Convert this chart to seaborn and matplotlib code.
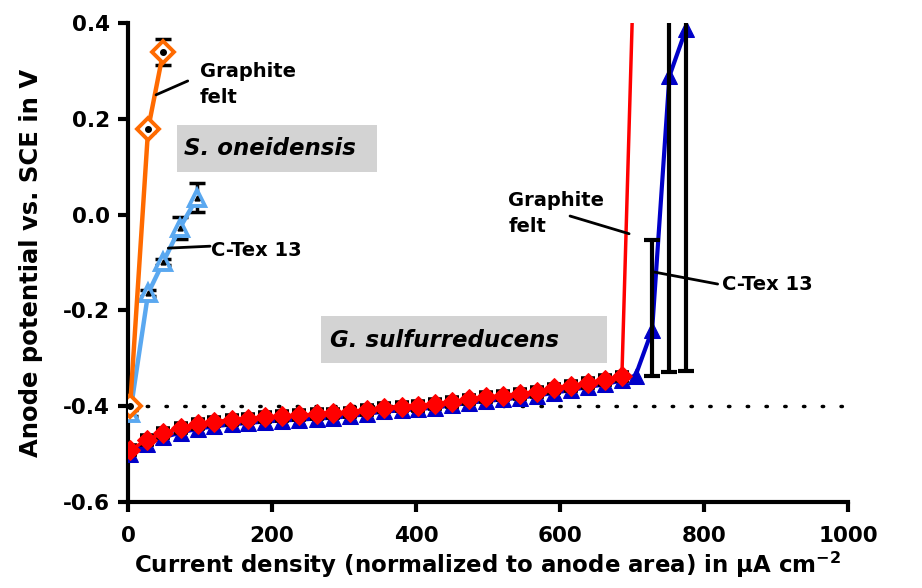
import matplotlib
matplotlib.use('Agg')
import matplotlib.pyplot as plt
from matplotlib.patches import Rectangle
from matplotlib.ticker import FormatStrFormatter
import seaborn as sns

# S. oneidensis (current density in uA cm-2, potential in V vs SCE)
so_felt_x = [3, 28, 49]
so_felt_y = [-0.400, 0.179, 0.340]
so_felt_err = [0.006, 0.006, 0.027]
so_ctex_x = [3, 28, 49, 72, 96]
so_ctex_y = [-0.415, -0.164, -0.099, -0.028, 0.035]
so_ctex_err = [0.006, 0.006, 0.006, 0.023, 0.030]

# G. sulfurreducens
gs_felt_x = [3, 26, 49, 73, 97, 120, 144, 167, 190, 214, 238, 262, 285, 309, 332,
             356, 380, 403, 427, 450, 474, 497, 521, 545, 568, 592, 616, 639, 663, 686, 706]
gs_felt_y = [-0.492, -0.470, -0.456, -0.446, -0.437, -0.432, -0.429, -0.426, -0.423, -0.421,
             -0.419, -0.417, -0.415, -0.413, -0.408, -0.403, -0.401, -0.399, -0.396, -0.391,
             -0.386, -0.381, -0.378, -0.375, -0.370, -0.363, -0.358, -0.351, -0.345, -0.338, 0.700]
gs_ctex_x = [3, 26, 49, 73, 97, 120, 144, 167, 190, 214, 238, 262, 285, 309, 332,
             356, 380, 403, 427, 450, 474, 497, 521, 545, 568, 592, 616, 639, 663, 686,
             705, 728, 752, 775]
gs_ctex_y = [-0.500, -0.478, -0.465, -0.455, -0.447, -0.442, -0.438, -0.435, -0.432, -0.430,
             -0.428, -0.426, -0.424, -0.421, -0.416, -0.411, -0.409, -0.406, -0.403, -0.398,
             -0.393, -0.389, -0.386, -0.382, -0.378, -0.372, -0.366, -0.360, -0.354, -0.346,
             -0.336, -0.241, 0.289, 0.387]
gs_bar_x = [728, 752, 775]
gs_bar_y = [-0.241, 0.289, 0.387]
gs_bar_lo = [0.096, 0.618, 0.713]
gs_bar_hi = [0.187, 0.618, 0.713]

sns.set_style('ticks')
plt.rcParams['font.family'] = ['DejaVu Sans']
plt.rcParams['axes.unicode_minus'] = False
for k in ['text.color', 'axes.labelcolor', 'xtick.color', 'ytick.color', 'axes.edgecolor']:
    plt.rcParams[k] = 'black'

fig = plt.figure(figsize=(9.22, 5.88), dpi=100)
ax = fig.add_axes([0.1388, 0.1463, 0.7809, 0.8146])

ORANGE = '#FF6A00'
LBLUE = '#5AA8F0'
RED = '#FF0000'
DBLUE = '#0000C8'

# reference line at -0.4 V
ax.axhline(-0.4, color='black', lw=2.5, ls=(0, (0.4, 5.0)), dash_capstyle='round', zorder=1)

# G. sulfurreducens
sns.lineplot(x=gs_ctex_x, y=gs_ctex_y, ax=ax, color=DBLUE, lw=3, marker='^', markersize=11,
             markeredgecolor=DBLUE, sort=False, zorder=3)
ax.errorbar(gs_bar_x, gs_bar_y, yerr=[gs_bar_lo, gs_bar_hi], fmt='none', ecolor='black',
            elinewidth=3, capsize=6, capthick=3, zorder=4)
ax.errorbar(gs_felt_x[:-1], gs_felt_y[:-1], yerr=0.008, fmt='none', ecolor='black',
            elinewidth=4, capsize=5, capthick=4, zorder=4)
sns.lineplot(x=gs_felt_x, y=gs_felt_y, ax=ax, color=RED, lw=2.5, marker='D', markersize=10,
             markeredgecolor=RED, sort=False, zorder=5)

# S. oneidensis
ax.errorbar(so_ctex_x, so_ctex_y, yerr=so_ctex_err, fmt='none', ecolor='black',
            elinewidth=2.5, capsize=6, capthick=2.5, zorder=5.5)
sns.lineplot(x=so_ctex_x, y=so_ctex_y, ax=ax, color=LBLUE, lw=3.2, marker='^', markersize=12,
             markerfacecolor='white', markeredgecolor=LBLUE, markeredgewidth=2.8, sort=False, zorder=6)
ax.errorbar(so_felt_x, so_felt_y, yerr=so_felt_err, fmt='none', ecolor='black',
            elinewidth=2.5, capsize=6, capthick=2.5, zorder=7)
sns.lineplot(x=so_felt_x, y=so_felt_y, ax=ax, color=ORANGE, lw=3.2, marker='D', markersize=11,
             markerfacecolor='white', markeredgecolor=ORANGE, markeredgewidth=2.8, sort=False, zorder=8)
ax.plot(so_ctex_x, so_ctex_y, ls='none', marker='^', ms=3.5, color='black', zorder=6.5)
ax.plot(so_felt_x, so_felt_y, ls='none', marker='o', ms=4, color='black', zorder=8.5)

# organism boxes
ax.add_patch(Rectangle((68, 0.089), 278, 0.098, facecolor='#D3D3D3', edgecolor='none', zorder=2))
ax.text(78, 0.137, 'S. oneidensis', fontsize=16.5, fontweight='bold', fontstyle='italic',
        va='center', ha='left', zorder=3)
ax.add_patch(Rectangle((268, -0.310), 397, 0.098, facecolor='#D3D3D3', edgecolor='none', zorder=2))
ax.text(280, -0.262, 'G. sulfurreducens', fontsize=16.5, fontweight='bold', fontstyle='italic',
        va='center', ha='left', zorder=3)

# series labels with leader lines
lab = dict(fontsize=14, fontweight='bold', va='center', ha='left', linespacing=1.45)
ax.text(100, 0.272, 'Graphite\nfelt', **lab)
ax.plot([39, 83], [0.250, 0.279], color='black', lw=2, zorder=10)
ax.text(115, -0.074, 'C-Tex 13', **lab)
ax.plot([56, 114], [-0.070, -0.066], color='black', lw=2, zorder=10)
ax.text(528, 0.003, 'Graphite\nfelt', **lab)
ax.plot([614, 696], [-0.003, -0.040], color='black', lw=2, zorder=10)
ax.text(825, -0.147, 'C-Tex 13', **lab)
ax.plot([731, 819], [-0.120, -0.145], color='black', lw=2, zorder=10)

ax.set_xlim(0, 1000)
ax.set_ylim(-0.6, 0.4)
ax.set_xticks([0, 200, 400, 600, 800, 1000])
ax.set_yticks([-0.6, -0.4, -0.2, 0.0, 0.2, 0.4])
ax.yaxis.set_major_formatter(FormatStrFormatter('%.1f'))
sns.despine(ax=ax)
for s in ['left', 'bottom']:
    ax.spines[s].set_linewidth(3)
ax.tick_params(width=3, length=7, labelsize=15.5)
ax.tick_params(axis='x', pad=10)
ax.tick_params(axis='y', pad=6)
for t in ax.get_xticklabels() + ax.get_yticklabels():
    t.set_fontweight('bold')
ax.set_xlabel(r'Current density (normalized to anode area) in μA cm$^{\mathbf{-2}}$',
              fontsize=16.5, fontweight='bold', labelpad=3)
ax.set_ylabel('Anode potential vs. SCE in V', fontsize=17.5, fontweight='bold', labelpad=14)

fig.savefig('out.png', dpi=100)
